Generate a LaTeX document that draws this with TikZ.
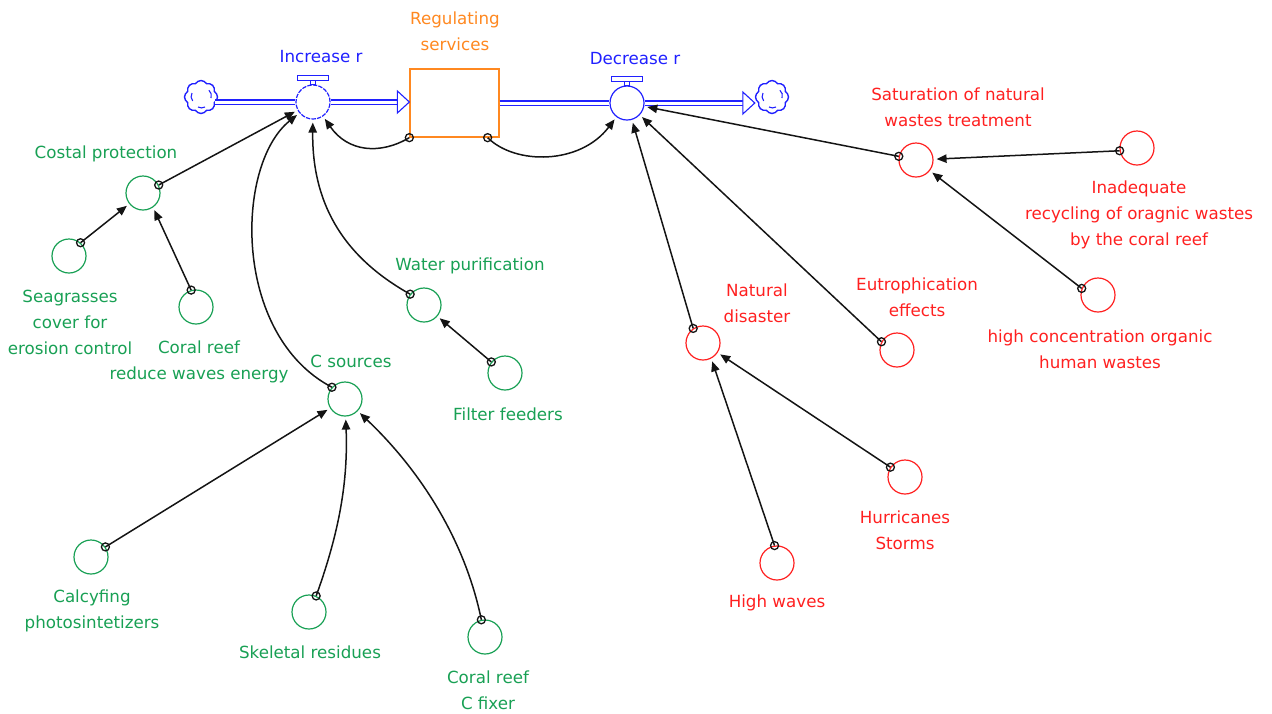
\documentclass[tikz,border=0pt]{standalone}
\usepackage{fontspec}
\setmainfont{DejaVu Sans}
\usetikzlibrary{positioning, arrows.meta, calc, shapes.symbols}
\definecolor{flowb}{RGB}{32,32,255}
\definecolor{stocko}{RGB}{255,136,32}
\definecolor{varg}{RGB}{24,160,84}
\definecolor{varr}{RGB}{255,32,32}
\definecolor{ink}{RGB}{20,20,20}

\begin{document}
\begin{tikzpicture}[
  x=0.5pt, y=-0.5pt,
  font=\fontsize{8.35}{13}\selectfont,
  gtxt/.style={text=varg, align=center, inner sep=0pt},
  rtxt/.style={text=varr, align=center, inner sep=0pt},
  btxt/.style={text=#1, align=center, inner sep=0pt},
  var/.style={circle, draw=#1, line width=0.6pt, minimum size=17pt, inner sep=0pt},
  valve/.style={circle, draw=flowb, fill=white, line width=0.6pt, minimum size=17pt, inner sep=0pt},
  stock/.style={draw=stocko, line width=0.65pt, minimum width=44.5pt, minimum height=34pt, inner sep=0pt},
  sink/.style={cloud, cloud puffs=8, cloud puff arc=120, aspect=1, draw=flowb, line width=0.7pt,
               minimum width=16.5pt, minimum height=16.5pt, inner sep=0pt},
  pipe/.style={draw=flowb, double=white, double distance=1.5pt, line width=0.55pt},
  link/.style={ink, line width=0.75pt, -{Triangle[length=5pt, width=4.2pt]}, shorten >=1.5pt},
]
\useasboundingbox (0,0) rectangle (1272,713);

% ─── flow chain: source, inflow valve, stock, outflow valve, sink ───────────
\node[sink] (cloudL) at (201,97) {};
\node[valve, dash pattern=on 2.2pt off 0.6pt] (inc) at (313,102) {};
\node[stock] (box) at (454.5,103) {};
\node[valve] (dec) at (627,103) {};
\node[sink] (cloudR) at (772,97) {};

\draw[pipe] ($(cloudL.east |- inc)+(-3,0)$) -- (inc.west);
\draw[pipe] (inc.east) -- ($(box.west |- inc)+(-12,0)$);
\draw[flowb, fill=white, line width=0.55pt] ($(box.west |- inc)+(-12,-11)$)
      -- (box.west |- inc) -- ($(box.west |- inc)+(-12,11)$) -- cycle;
\draw[pipe] (box.east |- dec) -- (dec.west);
\draw[pipe] (dec.east) -- ($(cloudR.west |- dec)+(-12,0)$);
\draw[flowb, fill=white, line width=0.55pt] ($(cloudR.west |- dec)+(-12,-11)$)
      -- (cloudR.west |- dec) -- ($(cloudR.west |- dec)+(-12,11)$) -- cycle;

% valve handles
\foreach \v in {inc, dec} {
  \draw[flowb, line width=0.55pt] ($(\v.north)+(-2.5,0)$) rectangle ($(\v.north)+(2.5,-4)$);
  \draw[flowb, line width=0.55pt, fill=white] ($(\v.north)+(-15.5,-4)$) rectangle ($(\v.north)+(15.5,-9)$);
}
% cloud squiggles
\foreach \c in {cloudL, cloudR} {
  \draw[flowb, line width=0.55pt] ($(\c)+(-9,-4)$) arc[start angle=150, end angle=220, radius=3.5pt];
  \draw[flowb, line width=0.55pt] ($(\c)+(10,1)$) arc[start angle=-20, end angle=50, radius=3.5pt];
  \draw[flowb, line width=0.55pt] ($(\c)+(-3,10)$) arc[start angle=240, end angle=300, radius=3.5pt];
}

\node[btxt=flowb] (lInc) at (321,57) {Increase r};
\node[btxt=stocko] (lBox) at (455,31) {Regulating\\services};
\node[btxt=flowb] (lDec) at (635,59) {Decrease r};

% ─── green variables (left) ─────────────────────────────────────────────────
\node[var=varg] (costal) at (143,193) {};
\node[var=varg] (seagr)  at (69,256)  {};
\node[var=varg] (reefw)  at (196,307) {};
\node[var=varg] (csrc)   at (345,399) {};
\node[var=varg] (water)  at (424,305) {};
\node[var=varg] (filter) at (505,373) {};
\node[var=varg] (calc)   at (91,557)  {};
\node[var=varg] (skel)   at (309,612) {};
\node[var=varg] (fixer)  at (485,637) {};

\node[gtxt] (lCostal) at (106,154)   {Costal protection};
\node[gtxt] (lSeagr)  at (70,322.5)  {Seagrasses\\cover for\\erosion control};
\node[gtxt] (lReefw)  at (199,361.5) {Coral reef\\reduce waves energy};
\node[gtxt] (lCsrc)   at (351,361)   {C sources};
\node[gtxt] (lWater)  at (470,266)   {Water purification};
\node[gtxt] (lFilter) at (508,414)   {Filter feeders};
\node[gtxt] (lCalc)   at (92,611)    {Calcyfing\\photosintetizers};
\node[gtxt] (lSkel)   at (310,652)   {Skeletal residues};
\node[gtxt] (lFixer)  at (488,690)   {Coral reef\\C fixer};

% ─── red variables (right) ──────────────────────────────────────────────────
\node[var=varr] (natdis) at (703,343)  {};
\node[var=varr] (eutro)  at (897,350)  {};
\node[var=varr] (satur)  at (916,160)  {};
\node[var=varr] (inadeq) at (1137,148) {};
\node[var=varr] (hconc)  at (1098,295) {};
\node[var=varr] (hurr)   at (905,477)  {};
\node[var=varr] (waves)  at (777,563)  {};

\node[rtxt] (lNatdis) at (757,303.5)  {Natural\\disaster};
\node[rtxt] (lEutro)  at (917,297)    {Eutrophication\\effects};
\node[rtxt] (lSatur)  at (958,107)    {Saturation of natural\\wastes treatment};
\node[rtxt] (lInadeq) at (1139,214.5) {Inadequate\\recycling of oragnic wastes\\by the coral reef};
\node[rtxt] (lHconc)  at (1100,349.5) {high concentration organic\\human wastes};
\node[rtxt] (lHurr)   at (905,530.5)  {Hurricanes\\Storms};
\node[rtxt] (lWaves)  at (777,603)    {High waves};

% ─── link origins ───────────────────────────────────────────────────────────
\coordinate (mBoxL)   at (box.south west);
\coordinate (mBoxR)   at ($(box.south east)+(-12,0)$);
\coordinate (mCostal) at (costal.27);
\coordinate (mSeagr)  at (seagr.49);
\coordinate (mReefw)  at (reefw.106);
\coordinate (mCsrc)   at (csrc.138);
\coordinate (mWater)  at (water.142);
\coordinate (mFilter) at (filter.141);
\coordinate (mCalc)   at (calc.35);
\coordinate (mSkel)   at (skel.66);
\coordinate (mFixer)  at (fixer.102);
\coordinate (mNatdis) at (natdis.124);
\coordinate (mEutro)  at (eutro.152);
\coordinate (mSatur)  at (satur.168);
\coordinate (mInadeq) at (inadeq.189);
\coordinate (mHconc)  at (hconc.158);
\coordinate (mHurr)   at (hurr.146);
\coordinate (mWaves)  at (waves.98);

% ─── links ──────────────────────────────────────────────────────────────────
\draw[link] (mCostal) -- (inc);
\draw[link] (mBoxL) .. controls (380,155) and (348,152) .. (inc);
\draw[link] (mCsrc) .. controls (232,335) and (235,165) .. (inc);
\draw[link] (mWater) .. controls (340,255) and (312,200) .. (inc);
\draw[link] (mBoxR) .. controls (515,165) and (580,165) .. (dec);
\draw[link] (mNatdis) -- (dec);
\draw[link] (mEutro) -- (dec);
\draw[link] (mSatur) -- (dec);

\draw[link] (mSeagr) -- (costal);
\draw[link] (mReefw) -- (costal.-55);
\draw[link] (mFilter) -- (water);
\draw[link] (mCalc) -- (csrc);
\draw[link] (mSkel) .. controls (340,530) and (348,480) .. (csrc);
\draw[link] (mFixer) .. controls (465,540) and (420,470) .. (csrc);

\draw[link] (mInadeq) -- (satur);
\draw[link] (mHconc) -- (satur);
\draw[link] (mWaves) -- (natdis.-62);
\draw[link] (mHurr) -- (natdis);

\foreach \m in {mBoxL, mBoxR, mCostal, mSeagr, mReefw, mCsrc, mWater, mFilter, mCalc,
                mSkel, mFixer, mNatdis, mEutro, mSatur, mInadeq, mHconc, mHurr, mWaves}
  \draw[ink, line width=0.65pt] (\m) circle[radius=2pt];

\end{tikzpicture}
\end{document}
